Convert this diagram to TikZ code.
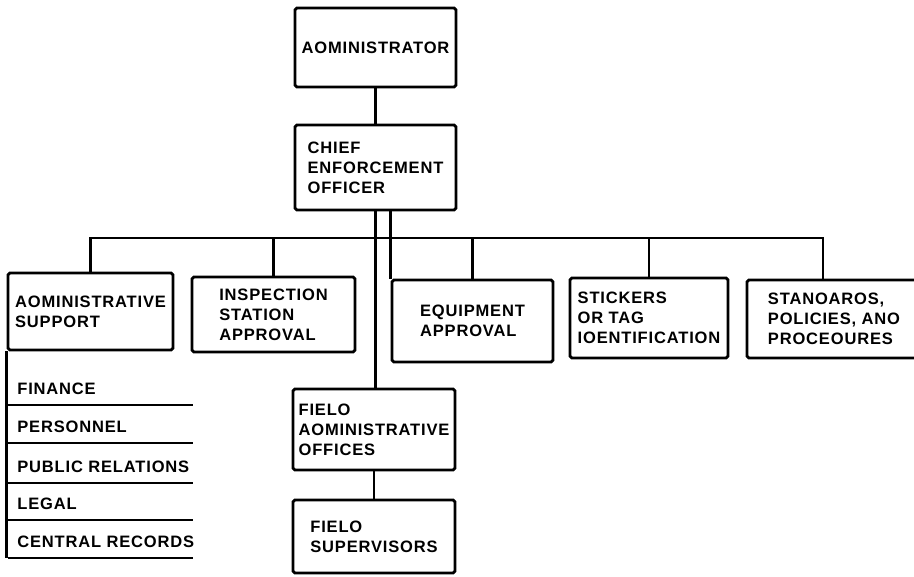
\documentclass[tikz,border=0pt]{standalone}
\usepackage{fontspec}
\setmainfont{Liberation Sans}
\newfontfamily\chartfont[LetterSpace=5]{Liberation Sans}
\usetikzlibrary{calc}
\tikzset{
  box/.style={draw,rounded corners=1pt,align=left,inner sep=0pt,
              font=\chartfont\bfseries\fontsize{9.4}{11.4}\selectfont},
  item/.style={font=\chartfont\bfseries\fontsize{9.4}{11.4}\selectfont,
               inner sep=0pt,anchor=base west},
}

\begin{document}
\begin{tikzpicture}[x=0.02cm, y=-0.02cm, line width=1.6pt]
  \clip (0,0) rectangle (914,576);
  % top of the chart
  \node[box, minimum width=3.22cm, minimum height=1.58cm] (adm)
       at (375.5,47.5) {AOMINISTRATOR};
  \node[box, minimum width=3.22cm, minimum height=1.7cm] (chief)
       at (375.5,167.5) {CHIEF\\ENFORCEMENT\\OFFICER};
  \draw (adm) -- (chief);

  % the five staff offices on the bus
  \node[box, minimum width=3.3cm, minimum height=1.54cm] (asup)
       at (90.5,311.5) {AOMINISTRATIVE\\SUPPORT};
  \node[box, minimum width=3.26cm, minimum height=1.5cm] (insp)
       at (273.5,314.5) {INSPECTION\\STATION\\APPROVAL};
  \node[box, minimum width=3.22cm, minimum height=1.64cm] (eqp)
       at (472.5,321) {EQUIPMENT\\APPROVAL};
  \node[box, minimum width=3.16cm, minimum height=1.6cm] (stk)
       at (649,318) {STICKERS\\OR TAG\\IOENTIFICATION};
  \node[box, minimum width=3.48cm, minimum height=1.56cm] (std)
       at (834,319) {STANOAROS,\\POLICIES, ANO\\PROCEOURES};
  \coordinate (bus) at (0,238);
  \coordinate (stdin) at ($(std.north)+(-11,0)$);
  \draw (asup.north) -- (asup.north |- bus) -- (stdin |- bus) -- (stdin);
  \foreach \b in {insp,stk}
    \draw (\b.north) -- (\b.north |- bus);
  \draw (eqp.north) -- (eqp.north |- bus);
  \draw (eqp.north west |- chief.south) -- (eqp.north west);

  % field line
  \node[box, minimum width=3.24cm, minimum height=1.62cm] (fao)
       at (374,429.5) {FIELO\\AOMINISTRATIVE\\OFFICES};
  \node[box, minimum width=3.24cm, minimum height=1.46cm] (fsup)
       at (374,536.5) {FIELO\\SUPERVISORS};
  \draw (chief.south) -- (chief.south |- fao.north);
  \draw (fao) -- (fsup);

  % sections under administrative support
  \foreach \t/\y [count=\k] in {FINANCE/405, PERSONNEL/443,
      PUBLIC RELATIONS/483, LEGAL/520, CENTRAL RECORDS/558} {
    \node[item] (sec\k) at (16,\y-11) {\t};
    \draw (8,\y) -- (193,\y);
  }
  \draw (asup.south west) -- (asup.south west |- 0,558);
\end{tikzpicture}
\end{document}
